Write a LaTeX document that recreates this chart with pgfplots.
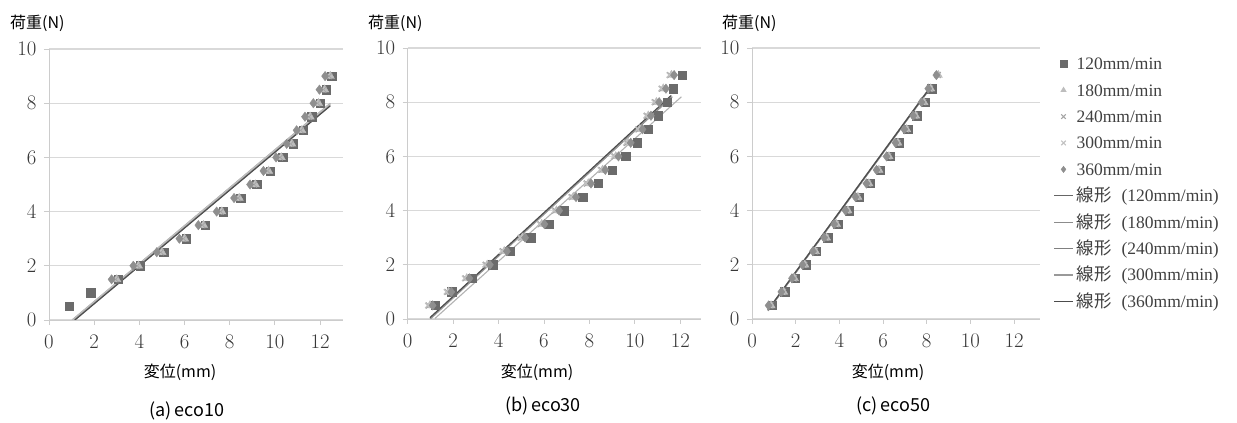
\documentclass[border=0pt]{standalone}
\usepackage{fontspec}
\usepackage{pgfplots}
\usepackage{pgfplotstable}
\pgfplotsset{compat=1.18}
\newfontfamily\jp{Noto Sans CJK JP}
\newfontfamily\legserif{Liberation Serif}

\definecolor{c120}{HTML}{6B6B6B}
\definecolor{c180}{HTML}{BDBDBD}
\definecolor{c240}{HTML}{A5A5A5}
\definecolor{c300}{HTML}{C2C2C2}
\definecolor{c360}{HTML}{8F8F8F}

\pgfplotstableread{
y x120 x180 x240 x300 x360
0.5 0.89 nan nan nan nan
1.0 1.85 nan nan nan nan
1.5 3.07 3.00 2.94 2.88 2.77
2.0 4.03 3.96 3.90 3.84 3.73
2.5 5.07 5.00 4.94 4.88 4.77
3.0 6.07 6.00 5.94 5.88 5.77
3.5 6.91 6.84 6.78 6.72 6.61
4.0 7.72 7.65 7.59 7.53 7.42
4.5 8.49 8.42 8.36 8.30 8.19
5.0 9.20 9.13 9.07 9.01 8.90
5.5 9.79 9.72 9.66 9.60 9.49
6.0 10.35 10.28 10.22 10.16 10.05
6.5 10.82 10.75 10.69 10.63 10.52
7.0 11.26 11.19 11.13 11.07 10.96
7.5 11.63 11.56 11.50 11.44 11.33
8.0 12.00 11.93 11.87 11.81 11.70
8.5 12.27 12.20 12.14 12.08 11.97
9.0 12.52 12.45 12.39 12.33 12.22
}\dataA

\pgfplotstableread{
y x120 x180 x240 x300 x360
0.5 1.20 0.98 0.93 0.88 1.10
1.0 1.94 1.80 1.75 1.70 1.92
1.5 2.85 2.60 2.55 2.50 2.72
2.0 3.75 3.50 3.45 3.40 3.62
2.5 4.50 4.25 4.20 4.15 4.37
3.0 5.41 5.05 5.00 4.95 5.17
3.5 6.22 5.90 5.85 5.80 6.02
4.0 6.88 6.55 6.50 6.45 6.67
4.5 7.70 7.29 7.24 7.19 7.41
5.0 8.39 7.95 7.90 7.85 8.07
5.5 9.00 8.58 8.53 8.48 8.70
6.0 9.59 9.16 9.11 9.06 9.28
6.5 10.10 9.70 9.65 9.60 9.82
7.0 10.60 10.22 10.17 10.12 10.34
7.5 11.03 10.59 10.54 10.49 10.71
8.0 11.42 10.95 10.90 10.85 11.07
8.5 11.69 11.25 11.20 11.15 11.37
9.0 12.08 11.61 11.56 11.51 11.73
}\dataB

\pgfplotstableread{
y x120 x180 x240 x300 x360
0.5 0.92 0.87 0.84 0.81 0.76
1.0 1.50 1.45 1.42 1.39 1.34
1.5 1.99 1.94 1.91 1.88 1.83
2.0 2.47 2.42 2.39 2.36 2.31
2.5 2.95 2.90 2.87 2.84 2.79
3.0 3.46 3.41 3.38 3.35 3.30
3.5 3.92 3.87 3.84 3.81 3.76
4.0 4.44 4.39 4.36 4.33 4.28
4.5 4.90 4.85 4.82 4.79 4.74
5.0 5.40 5.35 5.32 5.29 5.24
5.5 5.86 5.81 5.78 5.75 5.70
6.0 6.32 6.27 6.24 6.21 6.16
6.5 6.73 6.68 6.65 6.62 6.57
7.0 7.13 7.08 7.05 7.02 6.97
7.5 7.54 7.49 7.46 7.43 7.38
8.0 7.92 7.87 7.84 7.81 7.76
8.5 8.23 8.18 8.15 8.12 8.07
9.0 nan 8.53 8.50 8.47 8.44
}\dataC

\pgfplotsset{
  panel/.style={
    scale only axis, height=271pt,
    ymin=0, ymax=10, xmin=0,
    xtick={0,2,...,12}, ytick={0,2,...,10},
    axis x line*=bottom, axis y line*=left,
    axis line style={draw=black!20, line width=0.9pt},
    ymajorgrids, major grid style={draw=black!15, line width=1.1pt},
    major tick length=5pt, tick align=outside,
    tick style={draw=black!20, line width=0.9pt},
    ticklabel style={font=\fontsize{22}{22}\selectfont, text=black!78},
    xticklabel style={yshift=-7pt},
    yticklabel style={xshift=-4pt},
  },
  markimg/.style={legend image code/.code={\draw[##1, mark size=3.2pt] plot coordinates {(9.5pt,0pt)};}},
  lineimg/.style={legend image code/.code={\draw[##1] (0pt,0pt) -- (19pt,0pt);}},
  m120/.style={only marks, mark=square*, mark size=4.2pt, color=c120, markimg},
  m180/.style={only marks, mark=triangle*, mark size=4.8pt, color=c180, markimg},
  m240/.style={only marks, mark=x, mark size=4.2pt, color=c240, line width=1.1pt, markimg},
  m300/.style={only marks, mark=x, mark size=3.6pt, color=c300, line width=1.1pt, markimg},
  m360/.style={only marks, mark=diamond*, mark size=4.7pt, color=c360, markimg},
  ln/.style={no markers, line width=1.1pt, lineimg},
}

\begin{document}
\begin{tikzpicture}
\path[use as bounding box] (0pt,0pt) rectangle (1237pt,423pt);

% ---------- (a) eco10 ----------
\begin{axis}[panel, at={(49pt,103pt)}, anchor=south west, width=293.7pt, xmax=13]
\addplot[m120] table[x=x120,y=y] {\dataA};
\addplot[m180] table[x=x180,y=y] {\dataA};
\addplot[m240] table[x=x240,y=y] {\dataA};
\addplot[m300] table[x=x300,y=y] {\dataA};
\addplot[m360] table[x=x360,y=y] {\dataA};
\addplot[ln, color=black!35] coordinates {(1.02,0) (12.45,8.0)};
\addplot[ln, color=black!30] coordinates {(1.06,0) (12.45,7.97)};
\addplot[ln, color=black!25] coordinates {(1.04,0) (12.45,7.98)};
\addplot[ln, color=black!45] coordinates {(1.12,0) (12.45,7.92)};
\addplot[ln, color=black!70] coordinates {(1.15,0) (12.45,7.9)};
\end{axis}

% ---------- (b) eco30 ----------
\begin{axis}[panel, at={(407.7pt,104pt)}, anchor=south west, width=293pt, xmax=12.9]
\addplot[m120] table[x=x120,y=y] {\dataB};
\addplot[m180] table[x=x180,y=y] {\dataB};
\addplot[m240] table[x=x240,y=y] {\dataB};
\addplot[m300] table[x=x300,y=y] {\dataB};
\addplot[m360] table[x=x360,y=y] {\dataB};
\addplot[ln, color=black!30] coordinates {(1.2,0.02) (12.05,8.2)};
\addplot[ln, color=black!45] coordinates {(1.0,0.05) (11.65,8.2)};
\addplot[ln, color=black!55] coordinates {(0.98,0.02) (11.6,8.2)};
\addplot[ln, color=black!40] coordinates {(1.0,0.0) (11.62,8.2)};
\addplot[ln, color=black!70] coordinates {(0.98,0.05) (11.6,8.25)};
\end{axis}

% ---------- (c) eco50 ----------
\begin{axis}[panel, at={(752pt,104pt)}, anchor=south west, width=288.3pt, xmax=13.2,
  legend cell align=left,
  legend style={at={(1.045,0.972)}, anchor=north west, draw=none, fill=none,
    inner sep=0pt, row sep=10.4pt,
    font=\legserif\fontsize{17.5}{17.5}\selectfont, text=black!75,
    nodes={inner sep=0pt, text height=14pt, text depth=2pt},
    /tikz/every odd column/.append style={column sep=3pt}}]
\addplot[m120] table[x=x120,y=y] {\dataC};
\addlegendentry{120mm/min}
\addplot[m180] table[x=x180,y=y] {\dataC};
\addlegendentry{180mm/min}
\addplot[m240] table[x=x240,y=y] {\dataC};
\addlegendentry{240mm/min}
\addplot[m300] table[x=x300,y=y] {\dataC};
\addlegendentry{300mm/min}
\addplot[m360] table[x=x360,y=y] {\dataC};
\addlegendentry{360mm/min}
\addplot[ln, color=black!60] coordinates {(0.76,0.35) (8.23,8.62)};
\addlegendentry{{\jp 線形}\hspace{10pt}(120mm/min)}
\addplot[ln, color=black!45] coordinates {(0.73,0.30) (8.25,8.62)};
\addlegendentry{{\jp 線形}\hspace{10pt}(180mm/min)}
\addplot[ln, color=black!50] coordinates {(0.72,0.33) (8.23,8.64)};
\addlegendentry{{\jp 線形}\hspace{10pt}(240mm/min)}
\addplot[ln, color=black!40] coordinates {(0.74,0.31) (8.24,8.6)};
\addlegendentry{{\jp 線形}\hspace{10pt}(300mm/min)}
\addplot[ln, color=black!70] coordinates {(0.73,0.33) (8.23,8.62)};
\addlegendentry{{\jp 線形}\hspace{10pt}(360mm/min)}
\end{axis}

% ---------- texts ----------
\node[anchor=west, inner sep=0pt] at (10pt,400pt) {\jp\fontsize{16}{16}\selectfont 荷重(N)};
\node[anchor=west, inner sep=0pt] at (368pt,400pt) {\jp\fontsize{16}{16}\selectfont 荷重(N)};
\node[anchor=west, inner sep=0pt] at (722pt,400pt) {\jp\fontsize{16}{16}\selectfont 荷重(N)};
\node[inner sep=0pt] at (180pt,51pt) {\jp\fontsize{16}{16}\selectfont 変位(mm)};
\node[inner sep=0pt] at (537pt,51pt) {\jp\fontsize{16}{16}\selectfont 変位(mm)};
\node[inner sep=0pt] at (888pt,51pt) {\jp\fontsize{16}{16}\selectfont 変位(mm)};
\node[inner sep=0pt] at (187pt,12pt) {\jp\fontsize{18}{18}\selectfont (a)\,eco10};
\node[inner sep=0pt] at (543pt,17pt) {\jp\fontsize{18}{18}\selectfont (b)\,eco30};
\node[inner sep=0pt] at (893pt,17pt) {\jp\fontsize{18}{18}\selectfont (c)\,eco50};
\end{tikzpicture}
\end{document}
